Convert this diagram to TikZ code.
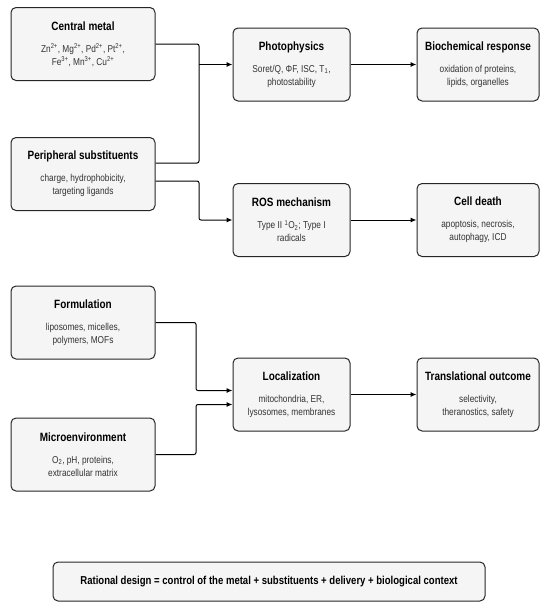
\documentclass[tikz,border=0pt]{standalone}
\usepackage{fontspec}
\setmainfont[FakeStretch=0.83]{Liberation Sans}
\usetikzlibrary{arrows.meta}
\newcommand{\hd}[1]{{\fontsize{12}{13}\selectfont\bfseries\color{black}#1}}
\begin{document}
\begin{tikzpicture}[x=1pt,y=-1pt,
  blk/.style={draw=black!85,line width=1pt,rounded corners=5pt,fill=black!4,align=center,
    minimum height=73pt,inner sep=2pt,text=black!80,font=\fontsize{10}{13}\selectfont},
  lbox/.style={blk,minimum width=144pt},
  mbox/.style={blk,minimum width=117pt},
  rbox/.style={blk,minimum width=122pt},
  link/.style={line width=1pt,rounded corners=2pt},
  arr/.style={link,-{Latex[length=6pt,width=5pt]}}]
\useasboundingbox (0,0) rectangle (550,611);
\node at (83,44) [lbox] (metal) {\hd{Central metal}\\[9pt]
  Zn\textsuperscript{2+}, Mg\textsuperscript{2+}, Pd\textsuperscript{2+}, Pt\textsuperscript{2+},\\
  Fe\textsuperscript{3+}, Mn\textsuperscript{3+}, Cu\textsuperscript{2+}};
\node at (83,174) [lbox] (periph) {\hd{Peripheral substituents}\\[9pt]charge, hydrophobicity,\\targeting ligands};
\node at (291.5,64.5) [mbox] (photo) {\hd{Photophysics}\\[9pt]Soret/Q, ΦF, ISC, T\textsubscript{1},\\photostability};
\node at (478,64.5) [rbox] (bio) {\hd{Biochemical response}\\[9pt]oxidation of proteins,\\lipids, organelles};
\node at (291.5,220) [mbox] (ros) {\hd{ROS mechanism}\\[9pt]Type II \textsuperscript{1}O\textsubscript{2}; Type I\\radicals};
\node at (478,220) [rbox] (death) {\hd{Cell death}\\[9pt]apoptosis, necrosis,\\autophagy, ICD};
\node at (83,322.5) [lbox] (form) {\hd{Formulation}\\[9pt]liposomes, micelles,\\polymers, MOFs};
\node at (83,454.5) [lbox] (micro) {\hd{Microenvironment}\\[9pt]O\textsubscript{2}, pH, proteins,\\extracellular matrix};
\node at (291.5,394.5) [mbox] (loc) {\hd{Localization}\\[9pt]mitochondria, ER,\\lysosomes, membranes};
\node at (478,394.5) [rbox] (trans) {\hd{Translational outcome}\\[9pt]selectivity,\\theranostics, safety};
\node at (269,581.5) [blk,minimum width=432pt,minimum height=39pt] (design)
  {{\fontsize{11.5}{13}\selectfont\bfseries\color{black}Rational design = control of the metal + substituents + delivery + biological context}};
\coordinate (j1) at (199,163);
\coordinate (j2) at (196,0);
\coordinate (in1) at ([yshift=4pt]loc.west);
\coordinate (in2) at ([yshift=-10pt]loc.west);
\draw[link] (metal.east) -| (j1) -- ([yshift=11pt]periph.east);
\draw[arr] (j1 |- photo.west) -- (photo.west);
\draw[arr] ([yshift=-7pt]periph.east) -| (j1 |- ros.west) -- (ros.west);
\draw[arr] (photo) -- (bio);
\draw[arr] (ros) -- (death);
\draw[arr] (form.east) -| (j2 |- in1) -- (in1);
\draw[arr] (micro.east) -| (j2 |- in2) -- (in2);
\draw[arr] (loc) -- (trans);
\end{tikzpicture}
\end{document}
